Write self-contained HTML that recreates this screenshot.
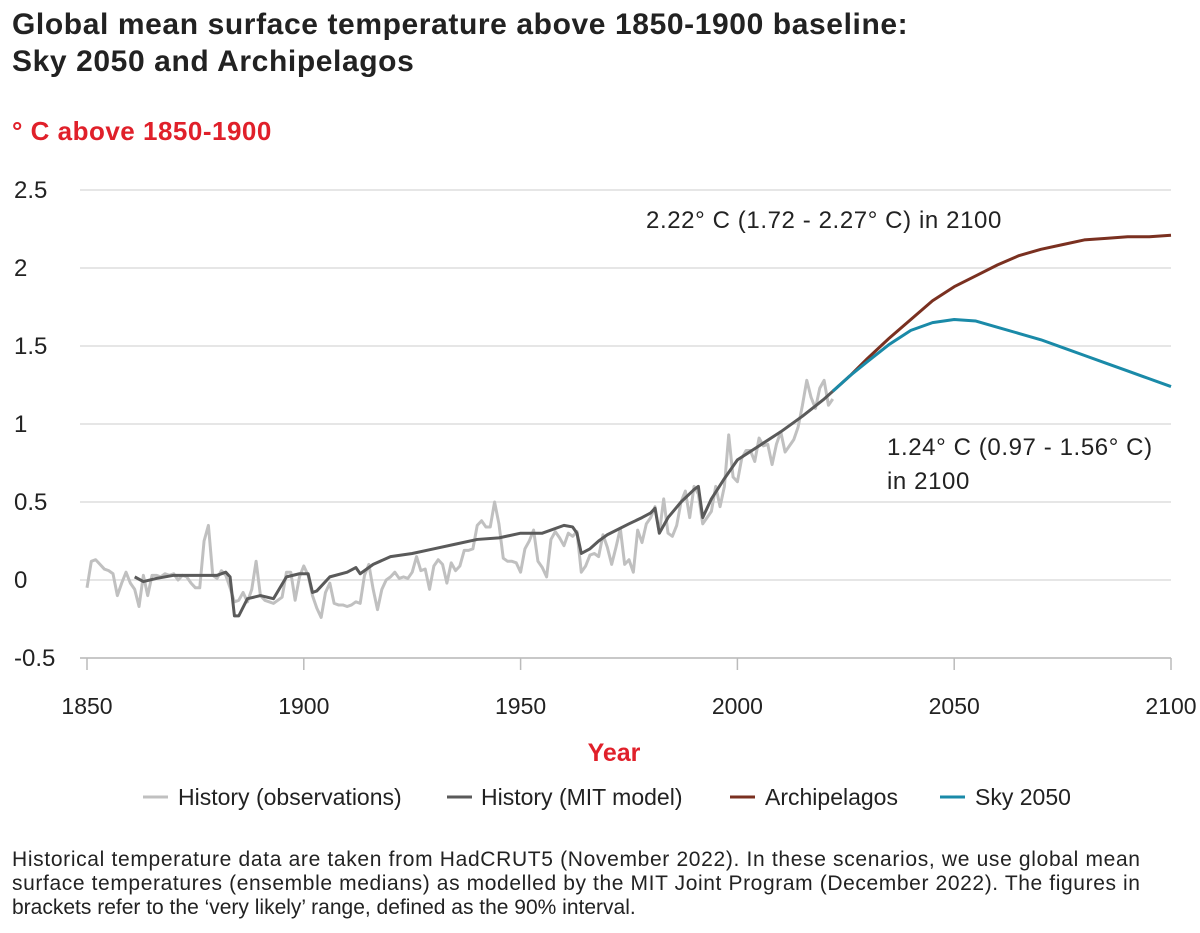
<!DOCTYPE html>
<html><head><meta charset="utf-8"><style>
body{margin:0;background:#fff;width:1200px;height:933px;overflow:hidden;font-family:"Liberation Sans",sans-serif;}
svg{position:absolute;left:0;top:0}
</style></head><body>
<svg id="chart" width="1200" height="933">
<text x="12" y="34" font-size="30" font-weight="bold" fill="#222" letter-spacing="0.6">Global mean surface temperature above 1850-1900 baseline:</text>
<text x="12" y="71" font-size="30" font-weight="bold" fill="#222" letter-spacing="0.6">Sky 2050 and Archipelagos</text>
<text x="12" y="140" font-size="26" font-weight="bold" fill="#e0202a" letter-spacing="0.5">° C above 1850-1900</text>
<g id="grid"></g><g id="series"></g>
<text x="646" y="228" font-size="24" fill="#222" letter-spacing="0.6">2.22° C (1.72 - 2.27° C) in 2100</text>
<text x="887" y="455" font-size="24" fill="#222" letter-spacing="0.6">1.24° C (0.97 - 1.56° C)</text>
<text x="887" y="489" font-size="24" fill="#222" letter-spacing="0.6">in 2100</text>
<text x="614" y="761" font-size="25" font-weight="bold" fill="#e0202a" text-anchor="middle">Year</text>
<g font-size="23" fill="#222">
<line x1="143" y1="797" x2="168" y2="797" stroke="#c0c0c0" stroke-width="3"/><text x="178" y="805">History (observations)</text>
<line x1="447" y1="797" x2="472" y2="797" stroke="#5a5a5a" stroke-width="3"/><text x="481" y="805">History (MIT model)</text>
<line x1="730" y1="797" x2="755" y2="797" stroke="#7a3020" stroke-width="3"/><text x="765" y="805">Archipelagos</text>
<line x1="940" y1="797" x2="965" y2="797" stroke="#1a8aa8" stroke-width="3"/><text x="975" y="805">Sky 2050</text>
</g>
<g font-size="21" fill="#222">
<text x="12" y="866" textLength="1128">Historical temperature data are taken from HadCRUT5 (November 2022). In these scenarios, we use global mean</text>
<text x="12" y="890" textLength="1128">surface temperatures (ensemble medians) as modelled by the MIT Joint Program (December 2022). The figures in</text>
<text x="12" y="914">brackets refer to the ‘very likely’ range, defined as the 90% interval.</text>
</g>
</svg>
<script>
const yTicks=[2.5,2,1.5,1,0.5,0,-0.5];
const yTickLabels=["2.5","2","1.5","1","0.5","0","-0.5"];
const xTicks=[1850,1900,1950,2000,2050,2100];
const obsStart=1850;
const obsVals=[-0.05,0.12,0.13,0.10,0.07,0.06,0.04,-0.10,-0.02,0.05,
-0.02,-0.06,-0.17,0.03,-0.10,0.03,0.03,0.02,0.04,0.03,
0.04,0.00,0.03,0.02,-0.02,-0.05,-0.05,0.25,0.35,0.03,
0.01,0.06,0.03,-0.05,-0.14,-0.13,-0.08,-0.14,-0.06,0.12,
-0.10,-0.13,-0.14,-0.15,-0.13,-0.11,0.05,0.05,-0.13,0.02,
0.09,0.03,-0.10,-0.18,-0.24,-0.08,-0.02,-0.15,-0.16,-0.16,
-0.17,-0.16,-0.14,-0.15,0.03,0.10,-0.06,-0.19,-0.06,0.00,
0.02,0.05,0.01,0.02,0.01,0.05,0.15,0.06,0.07,-0.06,
0.09,0.13,0.10,-0.02,0.11,0.06,0.09,0.19,0.19,0.20,
0.35,0.38,0.34,0.34,0.50,0.36,0.14,0.12,0.12,0.11,
0.05,0.20,0.25,0.32,0.12,0.08,0.02,0.26,0.31,0.27,
0.22,0.30,0.28,0.31,0.05,0.09,0.16,0.17,0.15,0.29,
0.21,0.10,0.21,0.33,0.10,0.13,0.05,0.32,0.24,0.36,
0.40,0.47,0.30,0.52,0.30,0.28,0.35,0.50,0.57,0.40,
0.60,0.55,0.36,0.40,0.44,0.60,0.47,0.60,0.93,0.66,
0.63,0.78,0.83,0.83,0.76,0.91,0.86,0.87,0.74,0.87,
0.95,0.82,0.86,0.90,0.98,1.12,1.28,1.17,1.10,1.23,
1.28,1.12,1.16];
const modelYears=[1861,1863,1866,1870,1875,1880,1882,1883,1884,1885,1887,1890,1893,1896,1899,1901,1902,1903,1906,1910,1912,1913,1916,1920,1925,1930,1935,1940,1945,1950,1955,1960,1962,1963,1964,1966,1968,1970,1975,1978,1980,1981,1982,1984,1987,1990,1991,1992,1994,1997,2000,2005,2010,2015,2020,2022];
const modelVals=[0.02,-0.01,0.01,0.03,0.03,0.03,0.05,0.02,-0.23,-0.23,-0.12,-0.10,-0.12,0.02,0.04,0.04,-0.08,-0.07,0.02,0.05,0.08,0.04,0.10,0.15,0.17,0.20,0.23,0.26,0.27,0.30,0.30,0.35,0.34,0.30,0.17,0.20,0.25,0.29,0.36,0.40,0.43,0.46,0.30,0.40,0.50,0.58,0.60,0.40,0.52,0.65,0.77,0.86,0.95,1.05,1.16,1.21];
const projYears=[2022,2026,2030,2035,2040,2045,2050,2055,2060,2065,2070,2075,2080,2085,2090,2095,2100];
const archVals=[1.21,1.31,1.42,1.55,1.67,1.79,1.88,1.95,2.02,2.08,2.12,2.15,2.18,2.19,2.20,2.20,2.21];
const skyVals=[1.21,1.31,1.40,1.51,1.60,1.65,1.67,1.66,1.62,1.58,1.54,1.49,1.44,1.39,1.34,1.29,1.24];
const X=y=>87+(y-1850)*(1171-87)/250;
const Y=v=>580-v*156;
const NS="http://www.w3.org/2000/svg";
const grid=document.getElementById('grid'),ser=document.getElementById('series');
yTicks.forEach((t,i)=>{
 const l=document.createElementNS(NS,'line');
 l.setAttribute('x1',80);l.setAttribute('x2',1171);l.setAttribute('y1',Y(t));l.setAttribute('y2',Y(t));
 l.setAttribute('stroke','#dedede');l.setAttribute('stroke-width','1.5');
 
 
 grid.appendChild(l);
 const tx=document.createElementNS(NS,'text');
 tx.setAttribute('x',14);tx.setAttribute('y',Y(t)+8);tx.setAttribute('font-size','24');tx.setAttribute('fill','#222');
 tx.textContent=yTickLabels[i];
 
 
 grid.appendChild(tx);
});
xTicks.forEach(t=>{
 const l=document.createElementNS(NS,'line');
 l.setAttribute('x1',X(t));l.setAttribute('x2',X(t));l.setAttribute('y1',658);l.setAttribute('y2',670);
 l.setAttribute('stroke','#bbb');l.setAttribute('stroke-width','1.5');
 
 
 grid.appendChild(l);
 const tx=document.createElementNS(NS,'text');
 tx.setAttribute('x',X(t));tx.setAttribute('y',714);tx.setAttribute('font-size','23');tx.setAttribute('fill','#222');tx.setAttribute('text-anchor','middle');
 tx.textContent=t;
 
 
 grid.appendChild(tx);
});
const ax=document.createElementNS(NS,'line');
ax.setAttribute('x1',80);ax.setAttribute('x2',1171);ax.setAttribute('y1',658);ax.setAttribute('y2',658);ax.setAttribute('stroke','#bbb');ax.setAttribute('stroke-width','1.5');


grid.appendChild(ax);
function line(xs,vs,color,name){
 const p=document.createElementNS(NS,'polyline');
 p.setAttribute('points',xs.map((x,i)=>X(x)+','+Y(vs[i])).join(' '));
 p.setAttribute('fill','none');p.setAttribute('stroke',color);p.setAttribute('stroke-width','3');p.setAttribute('stroke-linejoin','round');
 
 
 ser.appendChild(p);
}
line(obsVals.map((v,i)=>obsStart+i),obsVals,'#c0c0c0','observations-line');
line(modelYears,modelVals,'#5a5a5a','mit-model-line');
line(projYears,archVals,'#7a3020','archipelagos-line');
line(projYears,skyVals,'#1a8aa8','sky2050-line');
</script>
</body></html>
